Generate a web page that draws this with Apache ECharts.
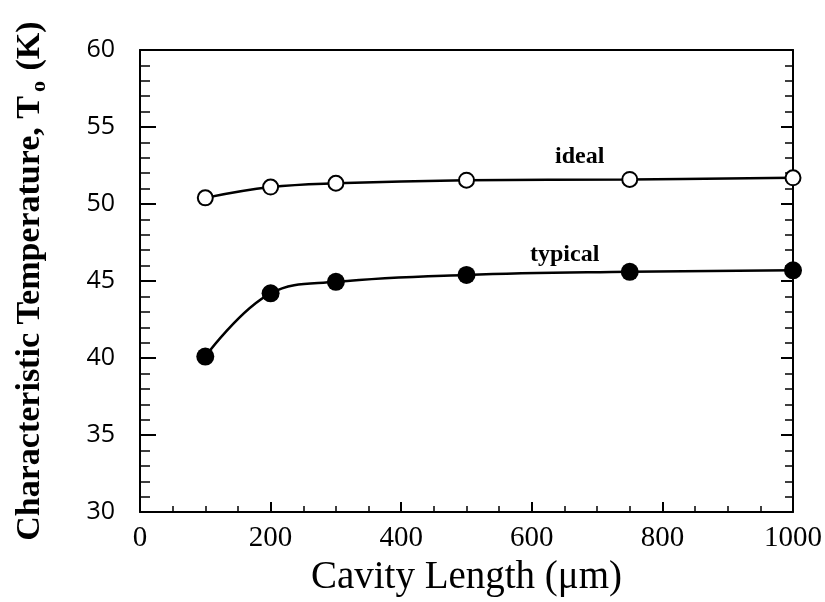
<!DOCTYPE html>
<html>
<head>
<meta charset="utf-8">
<script src="https://cdn.jsdelivr.net/npm/echarts@6/dist/echarts.min.js"></script>
<style>html,body{margin:0;padding:0;background:#fff}#c{width:825px;height:602px}</style>
</head>
<body>
<div id="c"></div>
<script>
var cavityLength = [100, 200, 300, 500, 750, 1000];
var idealT0 = [50.4, 51.1, 51.35, 51.55, 51.6, 51.7];
var typicalT0 = [40.1, 44.2, 44.95, 45.4, 45.6, 45.7];
var xTicks = [0, 200, 400, 600, 800, 1000];
var yTicks = [30, 35, 40, 45, 50, 55, 60];

function pairs(xs, ys) { return xs.map(function (x, i) { return [x, ys[i]]; }); }

var chart = echarts.init(document.getElementById('c'));
var serif = 'Liberation Serif';
chart.setOption({
  animation: false,
  backgroundColor: '#fff',
  grid: { left: 140, right: 32, top: 50, bottom: 85 },
  xAxis: [{
    type: 'value', min: xTicks[0], max: xTicks[xTicks.length - 1], interval: 200,
    name: 'Cavity Length (\u03bcm)', nameLocation: 'middle', nameGap: 27,
    nameTextStyle: { fontFamily: serif, fontSize: 39, color: '#000' },
    axisLine: { onZero: false, lineStyle: { color: '#000', width: 2 } },
    axisTick: { inside: true, length: 10, lineStyle: { color: '#000', width: 2 } },
    minorTick: { show: true, splitNumber: 4, length: 6, lineStyle: { color: '#000', width: 1.5 } },
    axisLabel: { fontFamily: serif, fontSize: 29, color: '#000', margin: 12, formatter: function (v) { return String(v); } },
    splitLine: { show: false }
  }, {
    type: 'value', position: 'top', min: 0, max: 1000,
    axisLine: { show: true, onZero: false, lineStyle: { color: '#000', width: 2 } },
    axisTick: { show: false }, axisLabel: { show: false }, splitLine: { show: false }
  }],
  yAxis: [{
    type: 'value', min: yTicks[0], max: yTicks[yTicks.length - 1], interval: 5,
    name: '{a|Characteristic Temperature, T}{s|o}{a| (K)}', nameLocation: 'middle', nameGap: 90,
    nameTextStyle: {
      rich: {
        a: { fontFamily: serif, fontSize: 34, fontWeight: 'bold', color: '#000', lineHeight: 36 },
        s: { fontFamily: serif, fontSize: 22, fontWeight: 'bold', color: '#000', padding: [18, 2, 0, 4], verticalAlign: 'bottom' }
      }
    },
    axisLine: { show: true, onZero: false, lineStyle: { color: '#000', width: 2 } },
    axisTick: { inside: true, length: 16, lineStyle: { color: '#000', width: 2 } },
    minorTick: { show: true, splitNumber: 5, length: 10, lineStyle: { color: '#000', width: 1.5 } },
    axisLabel: { fontFamily: 'Open Sans', fontSize: 25, color: '#000', margin: 25 },
    splitLine: { show: false }
  }, {
    type: 'value', position: 'right', min: 30, max: 60, interval: 5,
    axisLine: { show: true, onZero: false, lineStyle: { color: '#000', width: 2 } },
    axisTick: { inside: true, length: 12, lineStyle: { color: '#000', width: 2 } },
    minorTick: { show: true, splitNumber: 5, length: 8, lineStyle: { color: '#000', width: 1.5 } },
    axisLabel: { show: false }, splitLine: { show: false }
  }],
  series: [{
    name: 'ideal', type: 'line', data: pairs(cavityLength, idealT0), smooth: 0.4,
    symbol: 'circle', symbolSize: 15,
    itemStyle: { color: '#fff', borderColor: '#000', borderWidth: 2 },
    lineStyle: { color: '#000', width: 2.5 }, z: 3
  }, {
    name: 'typical', type: 'line', data: pairs(cavityLength, typicalT0), smooth: 0.4,
    symbol: 'circle', symbolSize: 18,
    itemStyle: { color: '#000', borderColor: '#000', borderWidth: 0 },
    lineStyle: { color: '#000', width: 2.5 }, z: 3
  }],
  graphic: [
    { type: 'text', left: 555, top: 145, style: { text: 'ideal', font: 'bold 24px "Liberation Serif"', fill: '#000' } },
    { type: 'text', left: 530, top: 243, style: { text: 'typical', font: 'bold 24px "Liberation Serif"', fill: '#000' } }
  ]
});
</script>
</body>
</html>
